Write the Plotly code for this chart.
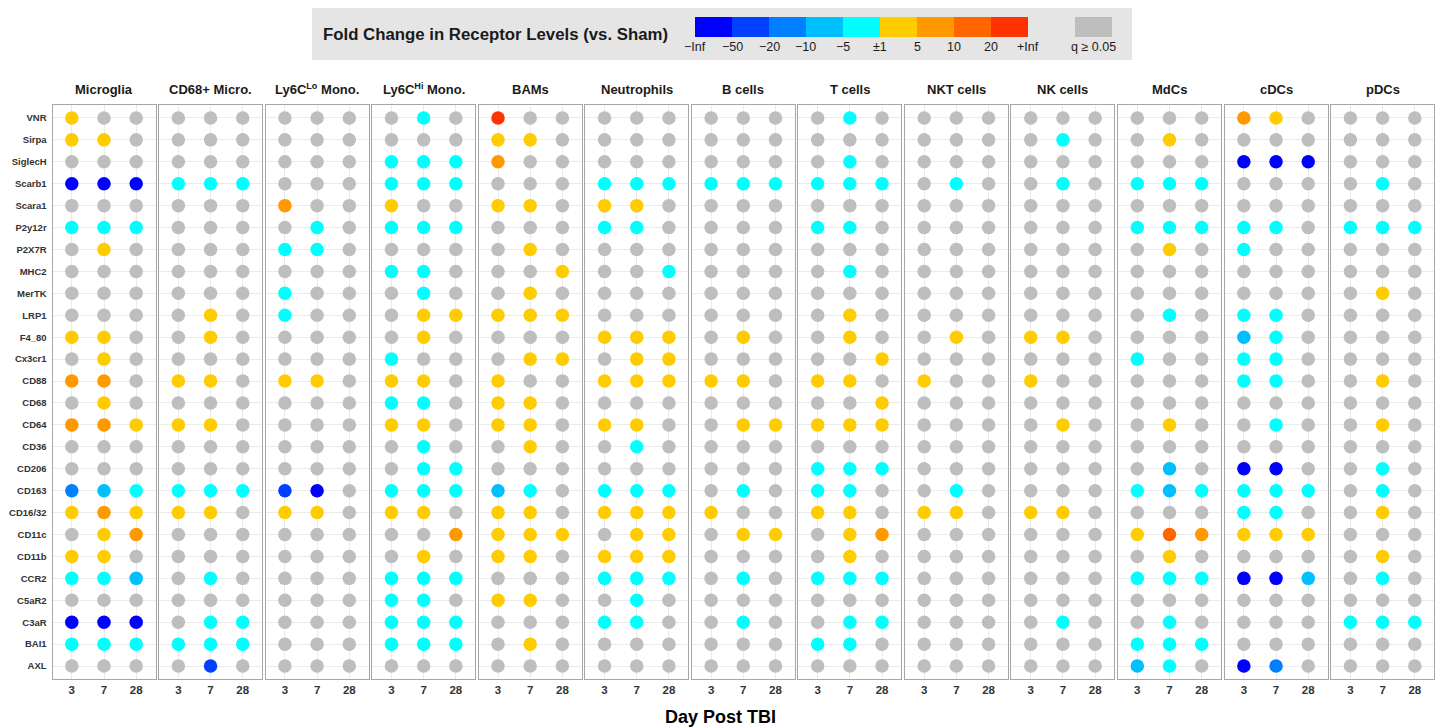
import plotly.graph_objects as go

# ---------------- data ----------------
receptors = ["VNR", "Sirpa", "SiglecH", "Scarb1", "Scara1", "P2y12r", "P2X7R", "MHC2",
             "MerTK", "LRP1", "F4_80", "Cx3cr1", "CD88", "CD68", "CD64", "CD36", "CD206",
             "CD163", "CD16/32", "CD11c", "CD11b", "CCR2", "C5aR2", "C3aR", "BAI1", "AXL"]
days = ["3", "7", "28"]
cell_types = ["Microglia", "CD68+ Micro.", "Ly6C<sup>Lo</sup> Mono.", "Ly6C<sup>Hi</sup> Mono.",
              "BAMs", "Neutrophils", "B cells", "T cells", "NKT cells", "NK cells",
              "MdCs", "cDCs", "pDCs"]

# fold-change bin per receptor (rows) for days 3 / 7 / 28
# B:-Inf..-50  b:-50..-20  m:-20..-10  l:-10..-5  c:-5..±1  y:±1..5  o:5..10  r:10..20  R:20..+Inf  .: q>=0.05
microglia = ["y..", "yy.", "...", "BBB", "...", "ccc", ".y.", "...", "...", "...", "yy.", ".y.", "oo.",
             ".y.", "ooy", "...", "...", "mlc", "yoy", ".yo", "yy.", "ccl", "...", "BBB", "ccc", "..."]
cd68_micro = ["...", "...", "...", "ccc", "...", "...", "...", "...", "...", ".y.", ".y.", "...", "yy.",
              "...", "yy.", "...", "...", "ccc", "yy.", "...", "...", ".c.", "...", ".cc", "ccc", ".b."]
ly6c_lo = ["...", "...", "...", "...", "o..", ".c.", "cc.", "...", "c..", "c..", "...", "...", "yy.",
           "...", "...", "...", "...", "bB.", "yy.", "...", "...", "...", "...", "...", "...", "..."]
ly6c_hi = [".c.", "...", "ccc", "ccc", "y..", "ccc", "...", "cc.", ".c.", ".yy", ".y.", "c..", "yy.",
           "cc.", "yy.", ".c.", ".cc", "ccc", "yy.", "..o", ".y.", "ccc", "cc.", "ccc", "ccc", "..."]
bams = ["R..", "yy.", "o..", "...", "yy.", "...", ".y.", "..y", ".y.", "yyy", "...", ".yy", "y..",
        "yy.", "yy.", ".y.", "...", "lc.", "yy.", "yyy", "yy.", "...", "yy.", "...", ".y.", "..."]
neutrophils = ["...", "...", "...", "ccc", "yy.", "cc.", "...", "..c", "...", "...", "yyy", ".yy", "yyy",
               "...", "yy.", ".c.", "...", "ccc", "yyy", ".yy", "yyy", "ccc", ".c.", "cc.", "...", "..."]
b_cells = ["...", "...", "...", "ccc", "...", "...", "...", "...", "...", "...", ".y.", "...", "yy.",
           "...", ".yy", "...", "...", ".c.", "y..", ".yy", "...", ".c.", "...", ".c.", "...", "..."]
t_cells = [".c.", "...", ".c.", "ccc", "...", "cc.", "...", ".c.", "...", ".y.", ".y.", "..y", "yy.",
           "..y", "yyy", "...", "ccc", "cc.", "yy.", ".yo", ".y.", "ccc", "...", ".cc", "cc.", "..."]
nkt_cells = ["...", "...", "...", ".c.", "...", "...", "...", "...", "...", "...", ".y.", "...", "y..",
             "...", "...", "...", "...", ".c.", "yy.", "...", "...", "...", "...", "...", "...", "..."]
nk_cells = ["...", ".c.", "...", ".c.", "...", "...", "...", "...", "...", "...", "yy.", "...", "y..",
            "...", ".y.", "...", "...", "...", "yy.", "...", "...", "...", "...", ".c.", "...", "..."]
mdcs = ["...", ".y.", "...", "ccc", "...", "ccc", ".y.", "...", "...", ".c.", "...", "c..", "...",
        "...", ".y.", "...", ".l.", "clc", "...", "yro", ".y.", "ccc", "...", ".c.", "ccc", "lc."]
cdcs = ["oy.", "...", "BBB", "...", "...", "cc.", "c..", "...", "...", "cc.", "lc.", "cc.", "cc.",
        "...", ".c.", "...", "BB.", "ccc", "cc.", "yyy", "...", "BBl", "...", "...", "...", "Bm."]
pdcs = ["...", "...", "...", ".c.", "...", "ccc", "...", "...", ".y.", "...", "...", "...", ".y.",
        "...", ".y.", "...", ".c.", ".c.", ".y.", "...", ".y.", ".c.", "...", "ccc", "...", "..."]

panels = [microglia, cd68_micro, ly6c_lo, ly6c_hi, bams, neutrophils, b_cells, t_cells,
          nkt_cells, nk_cells, mdcs, cdcs, pdcs]

bin_codes = ["B", "b", "m", "l", "c", "y", "o", "r", "R"]
bin_colors = ["#0000FF", "#0040FF", "#0080FF", "#00BFFF", "#00FFFF",
              "#FFCC00", "#FF9900", "#FF6600", "#FF3300"]
bin_labels = ["\u2212Inf", "\u221250", "\u221220", "\u221210", "\u22125", "\u00b11", "5", "10", "20", "+Inf"]
ns_color = "#BEBEBE"
ns_label = "q \u2265 0.05"

# ---------------- layout helpers ----------------
W, H = 1435, 728
def px(x):
    return x / W
def py(y):
    return 1 - y / H

FONT = "Liberation Sans, Arial, Helvetica, sans-serif"
panel_left0 = 52.5
panel_step = 106.55
panel_w = 103.0
panel_top, panel_bot = 105.0, 679.0

fig = go.Figure()
color_of = dict(zip(bin_codes, bin_colors))
color_of["."] = ns_color

n_rows = len(receptors)
for i, (name, data) in enumerate(zip(cell_types, panels)):
    xs, ys, cs = [], [], []
    for r, row in enumerate(data):
        for d, code in enumerate(row):
            xs.append(d)
            ys.append(r)
            cs.append(color_of[code])
    suffix = "" if i == 0 else str(i + 1)
    fig.add_trace(go.Scatter(
        x=xs, y=ys, mode="markers",
        marker=dict(size=13.5, color=cs, line=dict(width=0)),
        xaxis="x" + suffix, yaxis="y" + suffix,
        hoverinfo="skip", showlegend=False,
    ))
    left = panel_left0 + i * panel_step
    dom = [px(left), px(left + panel_w)]
    fig.layout["xaxis" + suffix] = dict(
        domain=dom, anchor="y" + suffix, range=[-0.6, 2.6],
        tickmode="array", tickvals=[0, 1, 2], ticktext=days,
        showgrid=True, gridcolor="#EBEBEB", gridwidth=1, zeroline=False,
        showline=True, mirror=True, linecolor="#A6A6A6", linewidth=1,
        ticks="", tickfont=dict(family=FONT, size=11.5, color="#333333", weight="bold"),
        fixedrange=True,
    )
    fig.layout["yaxis" + suffix] = dict(
        domain=[py(panel_bot), py(panel_top)], anchor="x" + suffix,
        range=[n_rows - 1 + 0.59, -0.59],
        tickmode="array", tickvals=list(range(n_rows)),
        ticktext=receptors, showticklabels=(i == 0),
        showgrid=True, gridcolor="#EBEBEB", gridwidth=1, zeroline=False,
        showline=True, mirror=True, linecolor="#A6A6A6", linewidth=1,
        ticks="", ticklabelstandoff=3,
        tickfont=dict(family=FONT, size=9.5, color="#333333", weight="bold"),
        fixedrange=True,
    )
    fig.add_annotation(
        text="<b>" + name + "</b>", x=(dom[0] + dom[1]) / 2, y=py(89),
        xref="paper", yref="paper", showarrow=False, xanchor="center", yanchor="middle",
        font=dict(family=FONT, size=13, color="#1A1A1A"),
    )

# axis title
fig.add_annotation(text="<b>Day Post TBI</b>", x=px(720), y=py(717), xref="paper", yref="paper",
                   showarrow=False, xanchor="center", yanchor="middle",
                   font=dict(family=FONT, size=18, color="#000000"))

# ---------------- legend ----------------
shapes = [dict(type="rect", xref="paper", yref="paper", x0=px(312), x1=px(1132), y0=py(60), y1=py(8),
               fillcolor="#E5E5E5", line=dict(width=0), layer="below")]
lg_x0, lg_w, lg_top, lg_bot = 695.0, 37.0, 17.0, 37.0
for k, col in enumerate(bin_colors):
    shapes.append(dict(type="rect", xref="paper", yref="paper",
                       x0=px(lg_x0 + k * lg_w), x1=px(lg_x0 + (k + 1) * lg_w),
                       y0=py(lg_bot), y1=py(lg_top), fillcolor=col, line=dict(width=0)))
for k, lab in enumerate(bin_labels):
    fig.add_annotation(text=lab, x=px(lg_x0 + k * lg_w), y=py(47), xref="paper", yref="paper",
                       showarrow=False, xanchor="center", yanchor="middle",
                       font=dict(family=FONT, size=12.5, color="#1A1A1A"))
shapes.append(dict(type="rect", xref="paper", yref="paper", x0=px(1075), x1=px(1112),
                   y0=py(lg_bot), y1=py(lg_top), fillcolor=ns_color, line=dict(width=0)))
fig.add_annotation(text=ns_label, x=px(1093.5), y=py(47), xref="paper", yref="paper",
                   showarrow=False, xanchor="center", yanchor="middle",
                   font=dict(family=FONT, size=12.5, color="#1A1A1A"))
fig.add_annotation(text="<b>Fold Change in Receptor Levels (vs. Sham)</b>", x=px(321), y=py(34),
                   xref="paper", yref="paper", showarrow=False, xanchor="left", yanchor="middle",
                   font=dict(family=FONT, size=16.8, color="#1A1A1A"))

fig.update_layout(
    width=W, height=H, margin=dict(l=0, r=0, t=0, b=0),
    paper_bgcolor="white", plot_bgcolor="white", shapes=shapes,
    font=dict(family=FONT),
)

fig.write_html(
    "out.html",
    config={"displayModeBar": False},
    post_script="document.body.style.margin='0';document.body.style.padding='0';"
                "document.documentElement.style.overflow='hidden';",
)
